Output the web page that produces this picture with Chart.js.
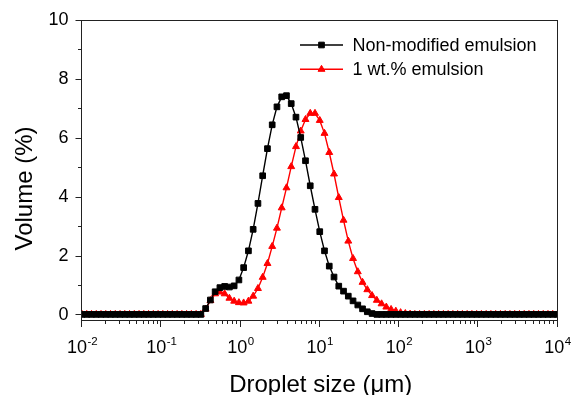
<!DOCTYPE html>
<html>
<head>
<meta charset="utf-8">
<script src="https://cdn.jsdelivr.net/npm/chart.js@4.4.1/dist/chart.umd.min.js"></script>
<style>
  html, body { margin: 0; padding: 0; background: #fff; }
  #wrap { width: 573px; height: 395px; position: relative; }
</style>
</head>
<body>
<div id="wrap"><canvas id="c"></canvas></div>
<script>
// Tamaños de gota (µm), 101 canales logarítmicos
const sizes = [
  0.01, 0.01148, 0.01318, 0.01514, 0.01738, 0.01995, 0.02291, 0.0263, 0.0302, 0.03467,
  0.03981, 0.04571, 0.05248, 0.06026, 0.06918, 0.07943, 0.0912, 0.1047, 0.1202, 0.138,
  0.1585, 0.182, 0.2089, 0.2399, 0.2754, 0.3162, 0.3631, 0.4169, 0.4786, 0.5495,
  0.631, 0.7244, 0.8318, 0.955, 1.096, 1.259, 1.445, 1.66, 1.905, 2.188,
  2.512, 2.884, 3.311, 3.802, 4.365, 5.012, 5.754, 6.607, 7.586, 8.71,
  10, 11.48, 13.18, 15.14, 17.38, 19.95, 22.91, 26.3, 30.2, 34.67,
  39.81, 45.71, 52.48, 60.26, 69.18, 79.43, 91.2, 104.7, 120.2, 138,
  158.5, 182, 208.9, 239.9, 275.4, 316.2, 363.1, 416.9, 478.6, 549.5,
  631, 724.4, 831.8, 955, 1096, 1259, 1445, 1660, 1905, 2188,
  2512, 2884, 3311, 3802, 4365, 5012, 5754, 6607, 7586, 8710,
  10000
];

// Volumen (%) - emulsión sin modificar
const nonModified = [
  0, 0, 0, 0, 0, 0, 0, 0, 0, 0,
  0, 0, 0, 0, 0, 0, 0, 0, 0, 0,
  0, 0, 0, 0, 0, 0, 0.20, 0.49, 0.77, 0.91,
  0.95, 0.93, 0.97, 1.17, 1.59, 2.16, 2.89, 3.77, 4.71, 5.63,
  6.44, 7.05, 7.39, 7.43, 7.16, 6.70, 6.01, 5.22, 4.37, 3.57,
  2.81, 2.16, 1.64, 1.27, 0.96, 0.79, 0.62, 0.46, 0.32, 0.19,
  0.09, 0.03, 0, 0, 0, 0, 0, 0, 0, 0,
  0, 0, 0, 0, 0, 0, 0, 0, 0, 0,
  0, 0, 0, 0, 0, 0, 0, 0, 0, 0,
  0, 0, 0, 0, 0, 0, 0, 0, 0, 0,
  0
];

// Volumen (%) - emulsión 1 wt.%
const oneWt = [
  0, 0, 0, 0, 0, 0, 0, 0, 0, 0,
  0, 0, 0, 0, 0, 0, 0, 0, 0, 0,
  0, 0, 0, 0, 0, 0, 0.18, 0.47, 0.70, 0.76,
  0.70, 0.55, 0.45, 0.40, 0.39, 0.45, 0.62, 0.88, 1.26, 1.73,
  2.31, 2.93, 3.62, 4.30, 5.02, 5.70, 6.23, 6.62, 6.83, 6.83,
  6.59, 6.15, 5.50, 4.77, 3.97, 3.20, 2.49, 1.90, 1.45, 1.09,
  0.84, 0.64, 0.48, 0.36, 0.25, 0.17, 0.11, 0.06, 0.03, 0.01,
  0, 0, 0, 0, 0, 0, 0, 0, 0, 0,
  0, 0, 0, 0, 0, 0, 0, 0, 0, 0,
  0, 0, 0, 0, 0, 0, 0, 0, 0, 0,
  0
];

const seriesNames = ['Non-modified emulsion', '1 wt.% emulsion'];
const yTickValues = [0, 2, 4, 6, 8, 10];
const xDecades = [-2, -1, 0, 1, 2, 3, 4];
const xTitle = 'Droplet size (\u03bcm)';
const yTitle = 'Volume (%)';

const FONT = '"Liberation Sans", Arial, Helvetica, sans-serif';

const toPoints = (vals) => sizes.map((s, i) => ({ x: s, y: vals[i] }));

// Ejes, marcas, etiquetas y leyenda dibujados sobre las escalas de Chart.js
const decoPlugin = {
  id: 'deco',
  afterDraw(chart) {
    const { ctx, chartArea: a, scales } = chart;
    const xs = scales.x, ys = scales.y;
    ctx.save();

    // marco
    ctx.strokeStyle = '#222';
    ctx.lineWidth = 1;
    ctx.strokeRect(a.left - 0.5, a.top + 0.5, a.right - a.left + 0.5, a.bottom - a.top);

    // marcas eje Y
    ctx.beginPath();
    for (let v = 0; v <= 10; v++) {
      const py = Math.round(ys.getPixelForValue(v)) + 0.5;
      const len = v % 2 === 0 ? 6 : 3.5;
      ctx.moveTo(a.left - 0.5 - len, py);
      ctx.lineTo(a.left - 0.5, py);
    }
    // marcas eje X
    xDecades.forEach((d) => {
      for (let m = 1; m <= 9; m++) {
        if (d === 4 && m > 1) break;
        const px = Math.round(xs.getPixelForValue(m * Math.pow(10, d))) - 0.5;
        const len = m === 1 ? 6.5 : 3.5;
        ctx.moveTo(px, a.bottom + 0.5);
        ctx.lineTo(px, a.bottom + 0.5 + len);
      }
    });
    ctx.stroke();

    // etiquetas Y
    ctx.fillStyle = '#000';
    ctx.font = '18px ' + FONT;
    ctx.textAlign = 'right';
    ctx.textBaseline = 'middle';
    yTickValues.forEach((v) => {
      ctx.fillText(String(v), a.left - 13.5, ys.getPixelForValue(v) + 0.5);
    });

    // etiquetas X (10 con exponente)
    ctx.textBaseline = 'alphabetic';
    ctx.textAlign = 'left';
    xDecades.forEach((d) => {
      const px = xs.getPixelForValue(Math.pow(10, d));
      ctx.font = '18px ' + FONT;
      const wBase = ctx.measureText('10').width;
      ctx.font = '11.5px ' + FONT;
      const wExp = ctx.measureText(String(d)).width;
      const x0 = px - (wBase + wExp) / 2;
      ctx.font = '18px ' + FONT;
      ctx.fillText('10', x0, 353);
      ctx.font = '11.5px ' + FONT;
      ctx.fillText(String(d), x0 + wBase + 0.5, 344.5);
    });

    // títulos
    ctx.font = '24px ' + FONT;
    ctx.textAlign = 'center';
    ctx.fillText(xTitle, (a.left + a.right) / 2 + 1, 392);
    ctx.save();
    ctx.translate(32.3, 188.5);
    ctx.rotate(-Math.PI / 2);
    ctx.fillText(yTitle, 0, 0);
    ctx.restore();

    // leyenda
    const rows = [45, 69.3];
    chart.data.datasets.forEach((ds, i) => {
      const ry = rows[i];
      ctx.strokeStyle = ds.borderColor;
      ctx.lineWidth = 1.5;
      ctx.beginPath();
      ctx.moveTo(300, ry);
      ctx.lineTo(343, ry);
      ctx.stroke();
      ctx.fillStyle = ds.pointBackgroundColor;
      ctx.strokeStyle = ds.pointBorderColor;
      ctx.lineWidth = ds.pointBorderWidth;
      Chart.helpers.drawPoint(ctx, {
        pointStyle: ds.pointStyle,
        radius: ds.pointRadius,
        borderWidth: ds.pointBorderWidth,
        rotation: 0
      }, 321.5, ry);
      ctx.fillStyle = '#000';
      ctx.font = '18px ' + FONT;
      ctx.textAlign = 'left';
      ctx.textBaseline = 'alphabetic';
      ctx.fillText(seriesNames[i], 352.5, ry + 6);
    });

    ctx.restore();
  }
};

new Chart(document.getElementById('c'), {
  type: 'line',
  data: {
    datasets: [
      {
        label: seriesNames[0],
        data: toPoints(nonModified),
        borderColor: '#000000',
        backgroundColor: '#000000',
        borderWidth: 1.4,
        pointStyle: 'rect',
        pointRadius: 4,
        pointBackgroundColor: '#000000',
        pointBorderColor: '#000000',
        pointBorderWidth: 1,
        tension: 0
      },
      {
        label: seriesNames[1],
        data: toPoints(oneWt),
        borderColor: '#ff0000',
        backgroundColor: '#ff0000',
        borderWidth: 1.4,
        pointStyle: 'triangle',
        pointRadius: 4,
        pointBackgroundColor: '#ff0000',
        pointBorderColor: '#ff0000',
        pointBorderWidth: 1,
        tension: 0
      }
    ]
  },
  options: {
    responsive: true,
    maintainAspectRatio: false,
    animation: false,
    devicePixelRatio: 1,
    layout: { padding: { top: 20, right: 15.5, left: 0, bottom: 0 } },
    plugins: {
      legend: { display: false },
      tooltip: { enabled: false },
      title: { display: false }
    },
    scales: {
      x: {
        type: 'logarithmic',
        min: 0.01,
        max: 10000,
        grid: { display: false },
        border: { display: false },
        ticks: { display: false },
        afterFit: (s) => { s.height = 75; }
      },
      y: {
        type: 'linear',
        min: -0.19,
        max: 10,
        grid: { display: false },
        border: { display: false },
        ticks: { display: false },
        afterFit: (s) => { s.width = 82; }
      }
    }
  },
  plugins: [decoPlugin]
});
</script>
</body>
</html>
